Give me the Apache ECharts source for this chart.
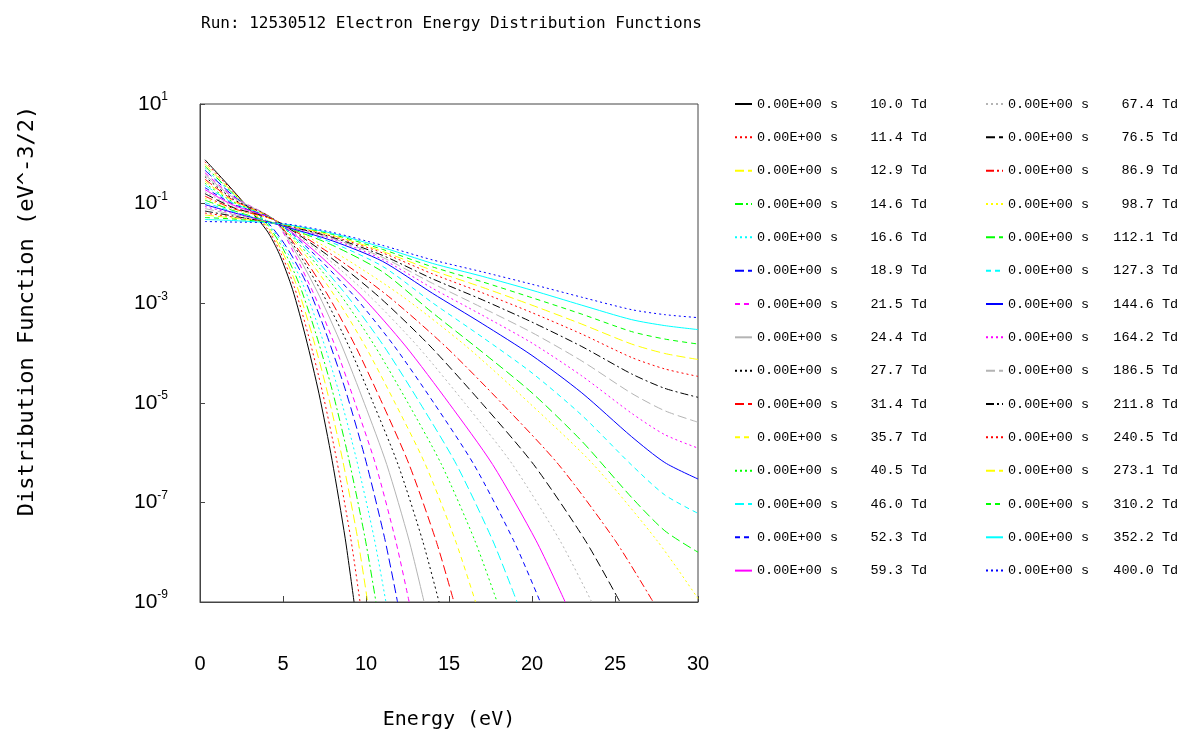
<!DOCTYPE html>
<html><head><meta charset="utf-8">
<script src="https://cdn.jsdelivr.net/npm/echarts@6/dist/echarts.min.js"></script>
<style>html,body{margin:0;padding:0;background:#fff}#c{width:1178px;height:735px}</style>
</head><body><div id="c"></div>
<script>
// ---- texts ----
const titleText = 'Run: 12530512 Electron Energy Distribution Functions';
const xName = 'Energy (eV)';
const yName = 'Distribution Function (eV^-3/2)';
const timeLabel = '0.00E+00 s';
const fieldTd = ['10.0','11.4','12.9','14.6','16.6','18.9','21.5','24.4','27.7','31.4',
                 '35.7','40.5','46.0','52.3','59.3','67.4','76.5','86.9','98.7','112.1',
                 '127.3','144.6','164.2','186.5','211.8','240.5','273.1','310.2','352.2','400.0'];
const yDecades = [-9, -7, -5, -3, -1, 1];

// ---- data: [energy (eV), log10 of distribution function (eV^-3/2)] ----
const eedf_10_0  = [[0.3,-0.12],[2,-0.74],[4,-1.53],[4.79,-2.02],[5.58,-2.73],[6.38,-3.70],[7.17,-4.82],[7.96,-6.16],[8.75,-7.73],[9.28,-9]];
const eedf_11_4  = [[0.3,-0.16],[2,-0.76],[4,-1.48],[4.85,-1.98],[5.69,-2.68],[6.54,-3.66],[7.38,-4.79],[8.23,-6.14],[9.08,-7.72],[9.64,-9]];
const eedf_12_9  = [[0.3,-0.21],[2,-0.78],[4,-1.44],[4.92,-1.94],[5.83,-2.65],[6.75,-3.63],[7.66,-4.77],[8.58,-6.13],[9.49,-7.71],[10.1,-9]];
const eedf_14_6  = [[0.3,-0.25],[2,-0.80],[4,-1.40],[4.99,-1.90],[5.98,-2.62],[6.97,-3.60],[7.96,-4.74],[8.95,-6.11],[9.94,-7.71],[10.6,-9]];
const eedf_16_6  = [[0.3,-0.29],[2,-0.82],[4,-1.37],[5.08,-1.87],[6.16,-2.59],[7.24,-3.58],[8.32,-4.73],[9.40,-6.10],[10.48,-7.70],[11.2,-9]];
const eedf_18_9  = [[0.3,-0.33],[2,-0.84],[4,-1.35],[5.19,-1.86],[6.37,-2.57],[7.56,-3.57],[8.74,-4.72],[9.93,-6.09],[11.11,-7.70],[11.9,-9]];
const eedf_21_5  = [[0.3,-0.38],[2,-0.86],[4.5,-1.34],[5.72,-2.03],[6.93,-2.87],[8.15,-3.87],[9.36,-5.02],[10.58,-6.24],[11.79,-7.77],[12.6,-9]];
const eedf_24_4  = [[0.3,-0.42],[2,-0.88],[4.5,-1.33],[5.85,-2.02],[7.2,-2.86],[8.55,-3.86],[9.9,-5.01],[11.25,-6.24],[12.6,-7.77],[13.5,-9]];
const eedf_27_7  = [[0.3,-0.46],[2,-0.91],[4.5,-1.33],[5.99,-2.02],[7.47,-2.86],[8.96,-3.86],[10.44,-5.01],[11.93,-6.24],[13.41,-7.77],[14.4,-9]];
const eedf_31_4  = [[0.3,-0.51],[2,-0.93],[4.5,-1.33],[6.12,-2.02],[7.74,-2.86],[9.36,-3.86],[10.98,-5.01],[12.6,-6.24],[14.22,-7.77],[15.3,-9]];
const eedf_35_7  = [[0.3,-0.55],[2,-0.95],[4.5,-1.33],[6.32,-2.02],[8.13,-2.86],[9.95,-3.86],[11.76,-5.01],[13.58,-6.24],[15.39,-7.77],[16.6,-9]];
const eedf_40_5  = [[0.3,-0.59],[2,-0.97],[4.5,-1.33],[6.51,-2.02],[8.52,-2.86],[10.53,-3.86],[12.54,-5.01],[14.55,-6.24],[16.56,-7.77],[17.9,-9]];
const eedf_46_0  = [[0.3,-0.63],[2,-0.99],[4.5,-1.33],[6.69,-2.02],[8.88,-2.86],[11.07,-3.86],[13.26,-5.01],[15.45,-6.24],[17.64,-7.77],[19.1,-9]];
const eedf_52_3  = [[0.3,-0.68],[2,-1.01],[4.5,-1.33],[6.9,-2.02],[9.3,-2.86],[11.7,-3.86],[14.1,-5.01],[16.5,-6.24],[18.9,-7.77],[20.5,-9]];
const eedf_59_3  = [[0.3,-0.72],[2,-1.03],[4.5,-1.33],[7.13,-2.02],[9.75,-2.86],[12.38,-3.86],[15.0,-5.01],[17.63,-6.24],[20.25,-7.77],[22.0,-9]];
const eedf_67_4  = [[0.3,-0.76],[2,-1.06],[4.5,-1.33],[7.37,-2.02],[10.23,-2.86],[13.1,-3.86],[15.96,-5.01],[18.83,-6.24],[21.69,-7.77],[23.6,-9]];
const eedf_76_5  = [[0.3,-0.80],[2,-1.08],[4.5,-1.33],[7.62,-2.02],[10.74,-2.86],[13.86,-3.86],[16.98,-5.01],[20.1,-6.24],[23.22,-7.77],[25.3,-9]];
const eedf_86_9  = [[0.3,-0.85],[2,-1.10],[4.5,-1.33],[7.92,-2.02],[11.34,-2.86],[14.76,-3.86],[18.18,-5.01],[21.6,-6.24],[25.02,-7.77],[27.3,-9]];
const eedf_98_7  = [[0.3,-0.89],[2,-1.12],[4.5,-1.33],[8.34,-2.02],[12.18,-2.86],[16.02,-3.86],[19.86,-5.01],[23.7,-6.24],[27.54,-7.77],[30,-8.93]];
const eedf_112_1 = [[0.3,-0.93],[2,-1.14],[5,-1.45],[8,-1.84],[11,-2.37],[14,-3.19],[17,-3.98],[20,-4.80],[23,-5.77],[26,-6.90],[28,-7.57],[30,-8.00]];
const eedf_127_3 = [[0.3,-0.98],[2,-1.16],[5,-1.45],[8,-1.79],[11,-2.26],[14,-2.99],[17,-3.68],[20,-4.40],[23,-5.25],[26,-6.25],[28,-6.85],[30,-7.22]];
const eedf_144_6 = [[0.3,-1.02],[2,-1.18],[5,-1.45],[8,-1.75],[11,-2.16],[14,-2.80],[17,-3.41],[20,-4.05],[23,-4.80],[26,-5.68],[28,-6.20],[30,-6.53]];
const eedf_164_2 = [[0.3,-1.06],[2,-1.20],[5,-1.44],[8,-1.72],[11,-2.12],[14,-2.70],[17,-3.24],[20,-3.80],[23,-4.46],[26,-5.21],[28,-5.64],[30,-5.91]];
const eedf_186_5 = [[0.3,-1.10],[2,-1.22],[5,-1.43],[8,-1.70],[11,-2.08],[14,-2.60],[17,-3.09],[20,-3.59],[23,-4.16],[26,-4.81],[28,-5.16],[30,-5.39]];
const eedf_211_8 = [[0.3,-1.15],[2,-1.25],[5,-1.43],[8,-1.68],[11,-2.04],[14,-2.51],[17,-2.93],[20,-3.38],[23,-3.87],[26,-4.42],[28,-4.71],[30,-4.89]];
const eedf_240_5 = [[0.3,-1.19],[2,-1.27],[5,-1.42],[8,-1.66],[11,-1.99],[14,-2.41],[17,-2.79],[20,-3.19],[23,-3.62],[26,-4.09],[28,-4.32],[30,-4.47]];
const eedf_273_1 = [[0.3,-1.23],[2,-1.29],[5,-1.42],[8,-1.64],[11,-1.96],[14,-2.34],[17,-2.68],[20,-3.04],[23,-3.42],[26,-3.82],[28,-4.01],[30,-4.13]];
const eedf_310_2 = [[0.3,-1.28],[2,-1.31],[5,-1.41],[8,-1.62],[11,-1.92],[14,-2.27],[17,-2.57],[20,-2.89],[23,-3.22],[26,-3.57],[28,-3.72],[30,-3.82]];
const eedf_352_2 = [[0.3,-1.32],[2,-1.34],[5,-1.41],[8,-1.60],[11,-1.88],[14,-2.20],[17,-2.46],[20,-2.74],[23,-3.04],[26,-3.33],[28,-3.45],[30,-3.53]];
const eedf_400_0 = [[0.3,-1.36],[2,-1.37],[5,-1.40],[8,-1.58],[11,-1.84],[14,-2.13],[17,-2.37],[20,-2.62],[23,-2.88],[26,-3.13],[28,-3.23],[30,-3.29]];

const curves = [eedf_10_0, eedf_11_4, eedf_12_9, eedf_14_6, eedf_16_6, eedf_18_9, eedf_21_5, eedf_24_4,
  eedf_27_7, eedf_31_4, eedf_35_7, eedf_40_5, eedf_46_0, eedf_52_3, eedf_59_3, eedf_67_4, eedf_76_5,
  eedf_86_9, eedf_98_7, eedf_112_1, eedf_127_3, eedf_144_6, eedf_164_2, eedf_186_5, eedf_211_8,
  eedf_240_5, eedf_273_1, eedf_310_2, eedf_352_2, eedf_400_0];

// ---- styles ----
const palette = ['#000000', '#ff0000', '#ffff00', '#00ff00', '#00ffff', '#0000ff', '#ff00ff', '#b4b4b4'];
const dashKinds = {solid: 'solid', dot: [2, 3], long: [9, 4], short: [5, 4], dashdot: [8, 3, 2, 3]};
const dashOrder = ['solid','dot','long','dashdot','dot','long','short','solid',
                   'dot','long','short','dot','long','short','solid','dot',
                   'long','dashdot','dot','long','short','solid','dot','long',
                   'dashdot','dot','long','short','solid','dot'];

const names = fieldTd.map(t => t + ' Td');
const series = curves.map((d, i) => ({
  name: names[i],
  type: 'line',
  data: d,
  symbol: 'none',
  smooth: 0.25,
  clip: true,
  color: palette[i % 8],
  lineStyle: {width: 1, color: palette[i % 8], type: dashKinds[dashOrder[i]]}
}));

const monoLegend = {fontFamily: 'Liberation Mono', fontSize: 13.5, color: '#000', lineHeight: 14};
function legendCol(left, list) {
  return {
    orient: 'vertical', left: left, top: 97, padding: 0,
    itemWidth: 17, itemHeight: 14, itemGap: 19.33,
    selectedMode: false,
    itemStyle: {opacity: 0},
    data: list,
    formatter: n => timeLabel + n.padStart(11),
    textStyle: monoLegend
  };
}

const axisCol = '#444';
const chart = echarts.init(document.getElementById('c'), null, {renderer: 'canvas'});
chart.setOption({
  animation: false,
  backgroundColor: '#fff',
  title: {
    text: titleText, left: 196, top: 11,
    textStyle: {fontFamily: 'DejaVu Sans Mono', fontSize: 16, fontWeight: 'normal', color: '#000'}
  },
  legend: [legendCol(734, names.slice(0, 15)), legendCol(985, names.slice(15))],
  grid: {left: 200, top: 104, width: 498, height: 499, show: true, borderColor: axisCol, borderWidth: 1, backgroundColor: 'transparent'},
  xAxis: {
    type: 'value', min: 0, max: 30, interval: 5,
    name: xName, nameLocation: 'middle', nameGap: 108,
    nameTextStyle: {fontFamily: 'DejaVu Sans Mono', fontSize: 20, color: '#000'},
    axisLine: {onZero: false, lineStyle: {color: axisCol}},
    axisTick: {inside: true, length: 6, lineStyle: {color: axisCol}},
    axisLabel: {margin: 52, fontFamily: 'Liberation Sans', fontSize: 20, color: '#000'},
    splitLine: {show: false}
  },
  yAxis: {
    type: 'value', min: -9, max: 1, interval: 2,
    name: yName, nameLocation: 'middle', nameGap: 162,
    nameTextStyle: {fontFamily: 'DejaVu Sans Mono', fontSize: 22, color: '#000', padding: [0, 0, 0, 84]},
    axisLine: {onZero: false, lineStyle: {color: axisCol}},
    axisTick: {inside: true, length: 5, lineStyle: {color: axisCol}},
    axisLabel: {
      margin: 32, color: '#000',
      formatter: v => (yDecades.indexOf(v) >= 0 ? '{b|10}{s|' + v + '}' : ''),
      rich: {
        b: {fontFamily: 'Liberation Sans', fontSize: 21, lineHeight: 26, color: '#000'},
        s: {fontFamily: 'Liberation Sans', fontSize: 12, lineHeight: 12, verticalAlign: 'top', color: '#000'}
      }
    },
    splitLine: {show: false}
  },
  series: series
});
</script></body></html>
